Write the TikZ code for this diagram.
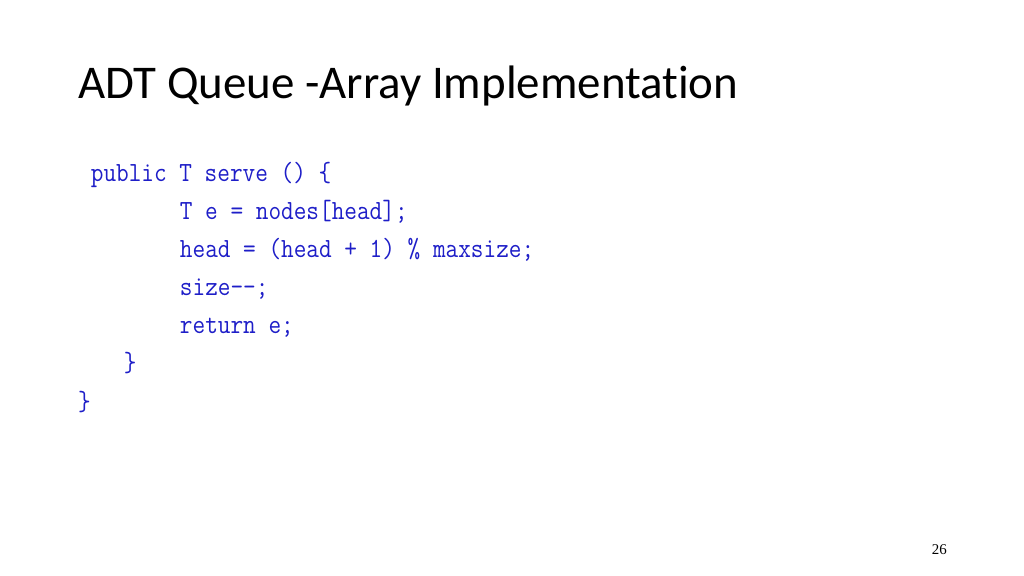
\documentclass[tikz,border=0pt]{standalone}
\usepackage{fontspec}
\usepackage{xcolor}
\usetikzlibrary{positioning}
\setmainfont{Liberation Serif}
\newfontfamily\titlefont[Ligatures=NoCommon]{Carlito}
\newfontfamily\codefont[FakeStretch=0.886]{Latin Modern Mono}
\definecolor{codeblue}{RGB}{30,30,200}
\begin{document}
\begin{tikzpicture}[
        x=1pt, y=1pt,
        codeline/.style={anchor=base west, inner sep=0pt, text=codeblue,
            font=\codefont\fontsize{26}{30}\selectfont},
        slidetitle/.style={anchor=base west, inner sep=0pt,
            font=\titlefont\fontsize{44}{52}\selectfont}
    ]
    \useasboundingbox[fill=white] (0,0) rectangle (960,540);

    % title
    \node[slidetitle] (title) at (73,447.2) {ADT Queue -Array Implementation};

    % code
    \node[codeline] (l1) at (85,370.3) {public T serve () \{};
    \node[codeline] (l2) at (168.5,334.5) {T e = nodes[head];};
    \node[codeline] (l3) at (168.5,298.7) {head = (head + 1) \% maxsize;};
    \node[codeline] (l4) at (168.5,262.9) {size-{}-;};
    \node[codeline] (l5) at (168.5,227.1) {return e;};
    \node[codeline] (l6) at (116,191.3) {\}};
    \node[codeline] (l7) at (73,155.5) {\}};

    % page number
    \node[anchor=base west, inner sep=0pt, font=\fontsize{14}{16}\selectfont] (page) at (873.5,19.7) {26};
\end{tikzpicture}
\end{document}
